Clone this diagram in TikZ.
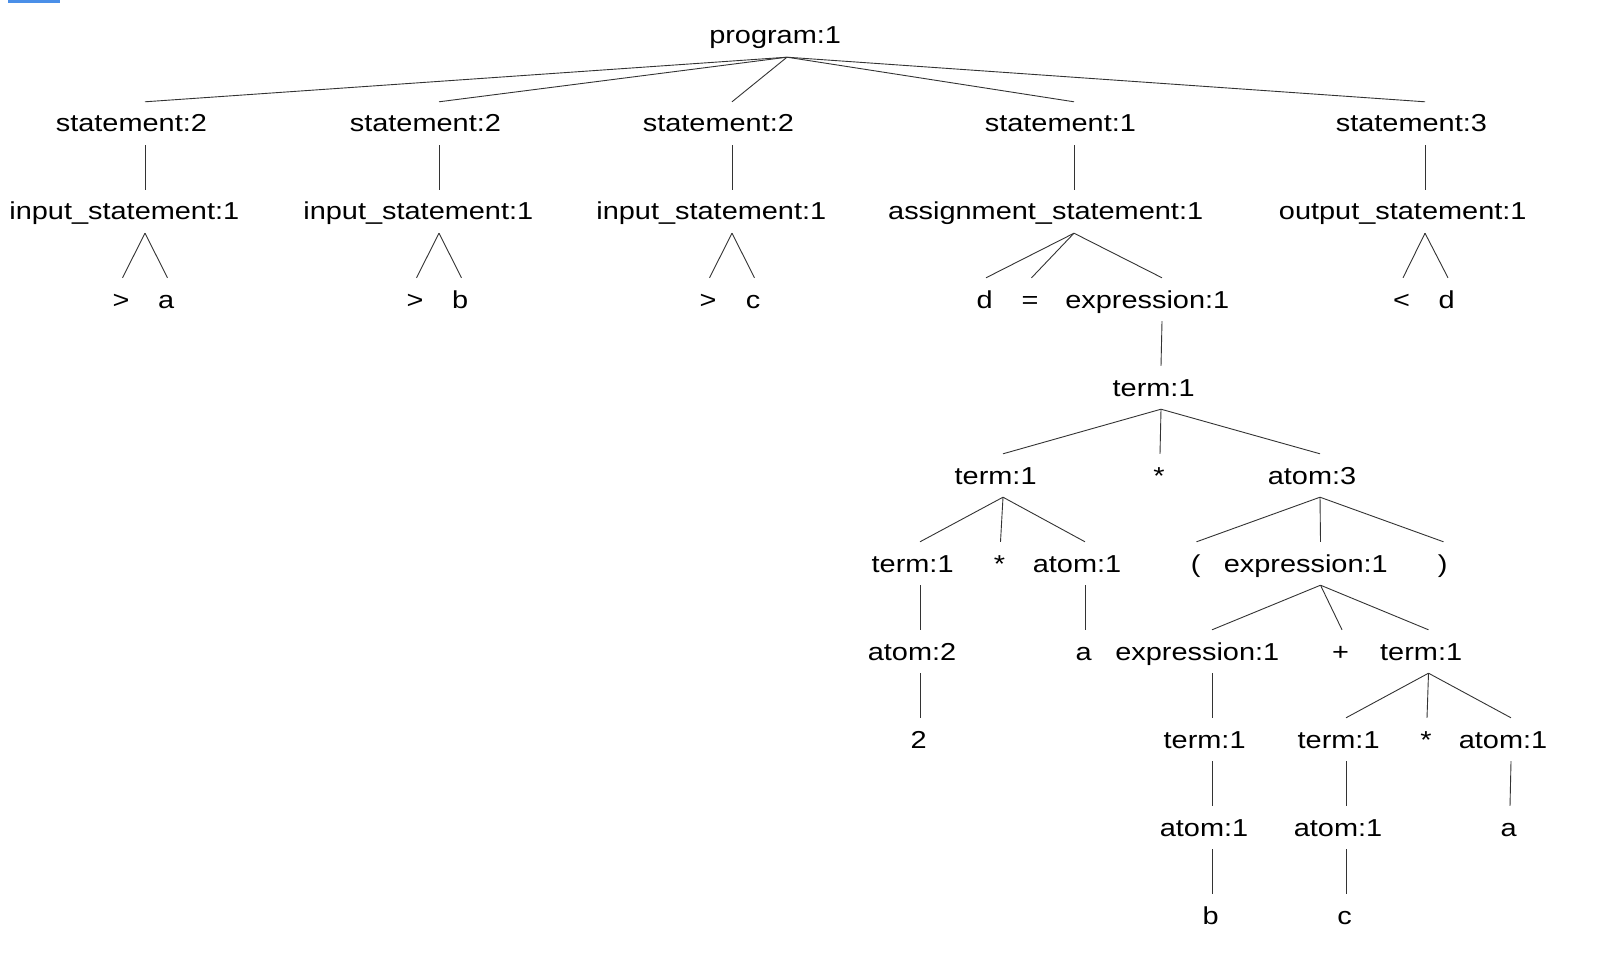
\documentclass[tikz,border=0pt]{standalone}
\usepackage{fontspec}
\setmainfont{Liberation Sans}[FakeStretch=1.18]
\usepackage{xcolor}
\usepackage{tikz}
\definecolor{selblue}{HTML}{4A8FE8}

\tikzset{
  tok/.style={font=\fontsize{24.5}{28}\selectfont, inner sep=0pt,
    text height=30pt, text depth=13pt, anchor=base,
    execute at begin node={\setbox0=\hbox\bgroup},
    execute at end node={\egroup\hbox to 1.18\wd0{\unhbox0\hfil}}},
  edge/.style={draw=black!80, line width=0.9pt},
}

\begin{document}
\begin{tikzpicture}[x=1pt, y=-1pt]
  \useasboundingbox (0,0) rectangle (1608,976);
  \fill[selblue] (8,0) rectangle (60,3);

  % level 0 and 1
  \node[tok] (p) at (787,44) {program:1};
  \node[tok] (s1) at (145,132) {statement:2};
  \node[tok] (s2) at (439,132) {statement:2};
  \node[tok] (s3) at (732,132) {statement:2};
  \node[tok] (s4) at (1074,132) {statement:1};
  \node[tok] (s5) at (1425,132) {statement:3};

  % level 2
  \node[tok] (i1) at (145,220) {input\_statement:1};
  \node[tok] (i2) at (439,220) {input\_statement:1};
  \node[tok] (i3) at (732,220) {input\_statement:1};
  \node[tok] (as) at (1074,220) {assignment\_statement:1};
  \node[tok] (os) at (1425,220) {output\_statement:1};

  % level 3
  \node[tok] (i1a) at (122.5,308) {>};
  \node[tok] (i1b) at (167.5,308) {a};
  \node[tok] (i2a) at (416.5,308) {>};
  \node[tok] (i2b) at (461.5,308) {b};
  \node[tok] (i3a) at (709.5,308) {>};
  \node[tok] (i3b) at (754.5,308) {c};
  \node[tok] (asd) at (986,308) {d};
  \node[tok] (aseq) at (1031.5,308) {=};
  \node[tok] (e1) at (1162,308) {expression:1};
  \node[tok] (osa) at (1403,308) {<};
  \node[tok] (osb) at (1448,308) {d};

  % expression subtree
  \node[tok] (t1) at (1161,396) {term:1};
  \node[tok] (t2) at (1003,484) {term:1};
  \node[tok] (m1) at (1160,484) {*};
  \node[tok] (at3) at (1320,484) {atom:3};
  \node[tok] (t3) at (920,572) {term:1};
  \node[tok] (m2) at (1000.5,572) {*};
  \node[tok] (at1) at (1085,572) {atom:1};
  \node[tok] (lp) at (1196.5,572) {(};
  \node[tok] (e2) at (1320.5,572) {expression:1};
  \node[tok] (rp) at (1443.5,572) {)};
  \node[tok] (at2) at (920,660) {atom:2};
  \node[tok] (va1) at (1085,660) {a};
  \node[tok] (e3) at (1212,660) {expression:1};
  \node[tok] (pl) at (1342,660) {+};
  \node[tok] (t4) at (1428.5,660) {term:1};
  \node[tok] (n2) at (920,748) {2};
  \node[tok] (t5) at (1212,748) {term:1};
  \node[tok] (t6) at (1346,748) {term:1};
  \node[tok] (m3) at (1427,748) {*};
  \node[tok] (at4) at (1511,748) {atom:1};
  \node[tok] (at5) at (1212,836) {atom:1};
  \node[tok] (at6) at (1346,836) {atom:1};
  \node[tok] (va2) at (1510,836) {a};
  \node[tok] (vb) at (1212,924) {b};
  \node[tok] (vc) at (1346,924) {c};

  % edges
  \foreach \a/\b in {p/s1, p/s2, p/s3, p/s4, p/s5,
      s1/i1, s2/i2, s3/i3, s4/as, s5/os,
      i1/i1a, i1/i1b, i2/i2a, i2/i2b, i3/i3a, i3/i3b,
      as/asd, as/aseq, as/e1, os/osa, os/osb,
      e1/t1, t1/t2, t1/m1, t1/at3,
      t2/t3, t2/m2, t2/at1, at3/lp, at3/e2, at3/rp,
      t3/at2, at1/va1, e2/e3, e2/pl, e2/t4,
      at2/n2, e3/t5, t4/t6, t4/m3, t4/at4,
      t5/at5, t6/at6, at4/va2, at5/vb, at6/vc}
    \draw[edge] (\a.south) -- (\b.north);
\end{tikzpicture}
\end{document}
